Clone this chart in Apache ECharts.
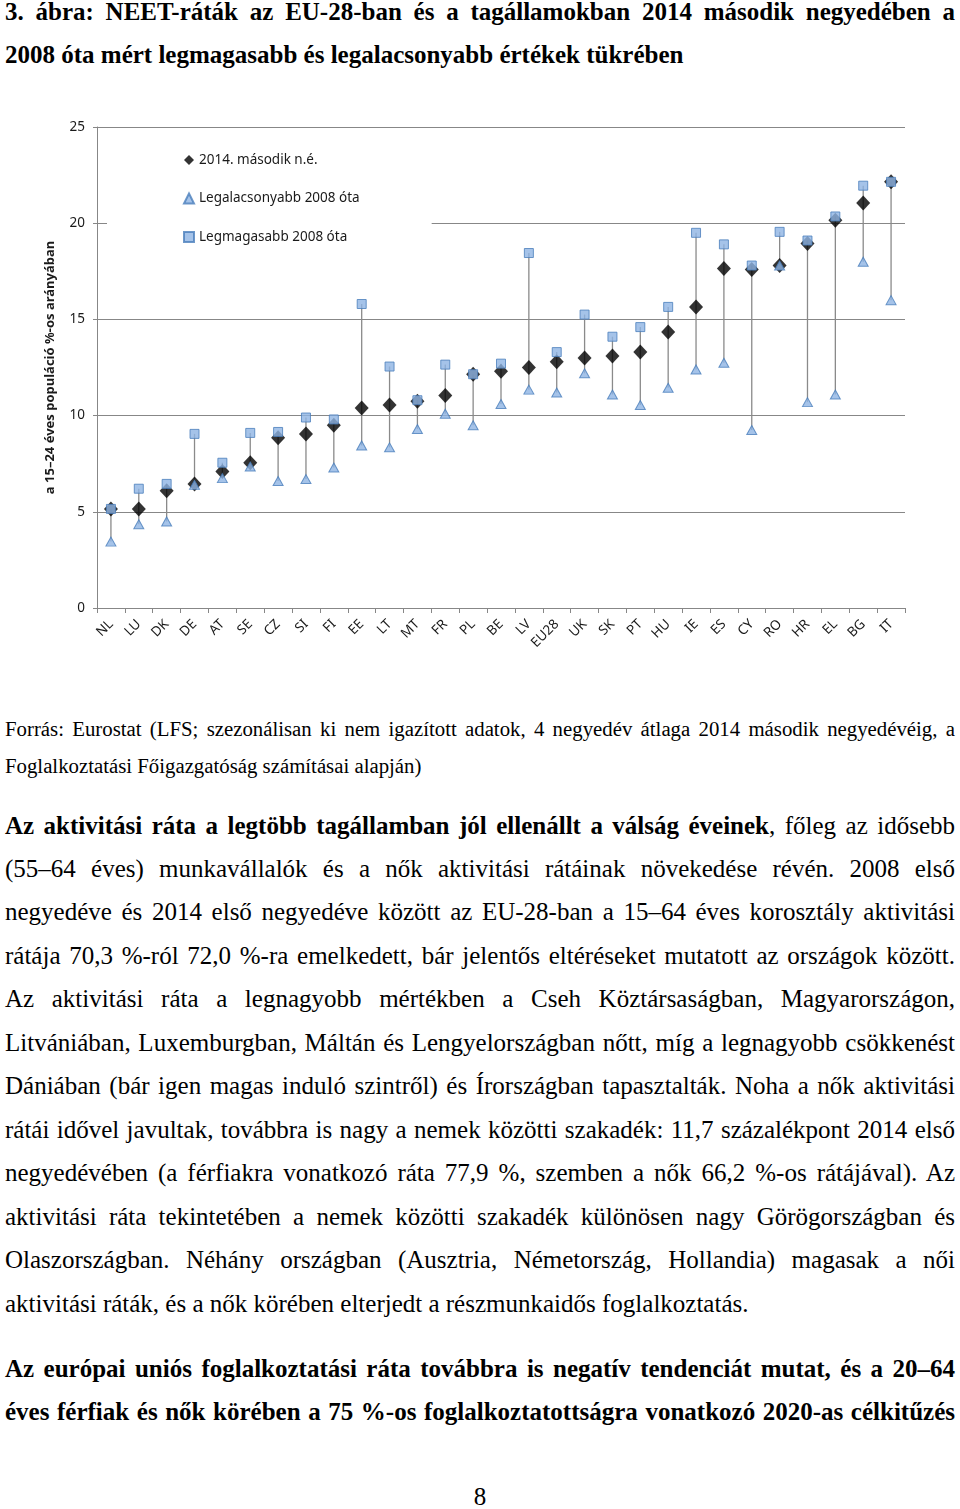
<!DOCTYPE html>
<html><head><meta charset="utf-8">
<script src="https://cdn.jsdelivr.net/npm/echarts@6/dist/echarts.min.js"></script>
<style>
html,body{margin:0;padding:0;background:#fff;width:960px;height:1509px;overflow:hidden;}
.ln{position:absolute;left:5px;width:950px;white-space:nowrap;font-family:"Liberation Serif","Times New Roman",serif;color:#000;text-align:justify;text-align-last:justify;height:30px;line-height:30px;}
.left{text-align:left;text-align-last:left;}
.t{font-weight:bold;font-size:25px;}
.s{font-size:20.8px;}
.b{font-size:25px;}
.bb{font-size:25px;font-weight:bold;}
#chart{position:absolute;left:0;top:90px;width:960px;height:590px;}
</style></head>
<body>
<div class="ln t" style="top:-3px">3. ábra: NEET-ráták az EU-28-ban és a tagállamokban 2014 második negyedében a</div>
<div class="ln t left" style="top:40px">2008 óta mért legmagasabb és legalacsonyabb értékek tükrében</div>
<div id="chart"></div>
<div class="ln s" style="top:714px">Forrás: Eurostat (LFS; szezonálisan ki nem igazított adatok, 4 negyedév átlaga 2014 második negyedévéig, a</div>
<div class="ln s left" style="top:751px">Foglalkoztatási Főigazgatóság számításai alapján)</div>
<div class="ln b" style="top:811px"><b>Az aktivitási ráta a legtöbb tagállamban jól ellenállt a válság éveinek</b>, főleg az idősebb</div>
<div class="ln b" style="top:854px">(55–64 éves) munkavállalók és a nők aktivitási rátáinak növekedése révén. 2008 első</div>
<div class="ln b" style="top:897px">negyedéve és 2014 első negyedéve között az EU-28-ban a 15–64 éves korosztály aktivitási</div>
<div class="ln b" style="top:941px">rátája 70,3 %-ról 72,0 %-ra emelkedett, bár jelentős eltéréseket mutatott az országok között.</div>
<div class="ln b" style="top:984px">Az aktivitási ráta a legnagyobb mértékben a Cseh Köztársaságban, Magyarországon,</div>
<div class="ln b" style="top:1028px">Litvániában, Luxemburgban, Máltán és Lengyelországban nőtt, míg a legnagyobb csökkenést</div>
<div class="ln b" style="top:1071px">Dániában (bár igen magas induló szintről) és Írországban tapasztalták. Noha a nők aktivitási</div>
<div class="ln b" style="top:1115px">rátái idővel javultak, továbbra is nagy a nemek közötti szakadék: 11,7 százalékpont 2014 első</div>
<div class="ln b" style="top:1158px">negyedévében (a férfiakra vonatkozó ráta 77,9 %, szemben a nők 66,2 %-os rátájával). Az</div>
<div class="ln b" style="top:1202px">aktivitási ráta tekintetében a nemek közötti szakadék különösen nagy Görögországban és</div>
<div class="ln b" style="top:1245px">Olaszországban. Néhány országban (Ausztria, Németország, Hollandia) magasak a női</div>
<div class="ln b left" style="top:1289px">aktivitási ráták, és a nők körében elterjedt a részmunkaidős foglalkoztatás.</div>
<div class="ln bb" style="top:1354px">Az európai uniós foglalkoztatási ráta továbbra is negatív tendenciát mutat, és a 20–64</div>
<div class="ln bb" style="top:1397px">éves férfiak és nők körében a 75 %-os foglalkoztatottságra vonatkozó 2020-as célkitűzés</div>
<div class="ln b" style="top:1482px;text-align:center;text-align-last:center">8</div>
<script>
// shrink any line whose natural width would overflow the text column
document.querySelectorAll('.ln').forEach(function(el){
  let fs = parseFloat(getComputedStyle(el).fontSize);
  let guard = 0;
  while (el.scrollWidth > 951 && guard < 40) { fs -= 0.1; el.style.fontSize = fs + 'px'; guard++; }
});

const categories = ['NL','LU','DK','DE','AT','SE','CZ','SI','FI','EE','LT','MT','FR','PL','BE','LV','EU28','UK','SK','PT','HU','IE','ES','CY','RO','HR','EL','BG','IT'];
const current2014 = [5.15,5.15,6.1,6.45,7.1,7.55,8.85,9.05,9.5,10.4,10.55,10.75,11.05,12.15,12.3,12.5,12.8,13.0,13.1,13.3,14.35,15.65,17.65,17.6,17.8,18.95,20.15,21.05,22.15];
const lowest = [3.45,4.35,4.5,6.4,6.75,7.35,6.6,6.7,7.3,8.45,8.35,9.3,10.1,9.5,10.6,11.35,11.2,12.2,11.1,10.55,11.45,12.4,12.75,9.25,17.8,10.7,11.1,18.0,16.0];
const highest = [5.15,6.2,6.45,9.05,7.55,9.1,9.15,9.9,9.8,15.8,12.55,10.8,12.65,12.15,12.7,18.45,13.3,15.25,14.1,14.6,15.65,19.5,18.9,17.8,19.55,19.1,20.35,21.95,22.15];

const chart = echarts.init(document.getElementById('chart'), null, {renderer:'canvas'});
const font = '"Noto Sans", "Open Sans", sans-serif';
const gridCol = '#878787';
const stemData = categories.map((c,i)=>[i, lowest[i], highest[i]]);
chart.setOption({
  animation:false,
  textStyle:{fontFamily:font},
  grid:{left:97,right:55,top:37,bottom:72},
  legend:{
    orient:'vertical', left:107, top:55,
    padding:[8,72,10,76], itemGap:24.5, itemWidth:10, itemHeight:10,
    backgroundColor:'#fff',
    textStyle:{fontFamily:font,fontSize:13.5,color:'#1a1a1a'},
    data:[{name:'2014. második n.é.'},{name:'Legalacsonyabb 2008 óta'},{name:'Legmagasabb 2008 óta'}]
  },
  xAxis:{
    type:'category', data:categories, boundaryGap:true,
    axisLine:{lineStyle:{color:gridCol,width:1}},
    axisTick:{show:true,length:5,lineStyle:{color:gridCol}},
    axisLabel:{rotate:45,fontSize:13.5,color:'#1a1a1a',margin:14,fontFamily:font,interval:0}
  },
  yAxis:{
    type:'value', min:0, max:25, interval:5,
    name:'a 15–24 éves populáció %-os arányában', nameLocation:'middle', nameRotate:90, nameGap:40,
    nameTextStyle:{fontFamily:font,fontSize:13,fontWeight:'bold',color:'#1a1a1a'},
    axisLine:{show:true,lineStyle:{color:gridCol}},
    axisTick:{show:true,length:4,lineStyle:{color:gridCol}},
    axisLabel:{fontSize:13.5,color:'#1a1a1a',margin:12,fontFamily:font},
    splitLine:{lineStyle:{color:gridCol,width:1}}
  },
  series:[
    {type:'custom', name:'stem', silent:true, z:1,
     renderItem:function(params,api){
       const p1=api.coord([api.value(0),api.value(1)]);
       const p2=api.coord([api.value(0),api.value(2)]);
       return {type:'line',shape:{x1:p1[0],y1:p1[1],x2:p2[0],y2:p2[1]},style:{stroke:'#8a8a8a',lineWidth:1.3}};
     },
     encode:{x:0,y:[1,2]}, data:stemData},
    {type:'scatter', name:'2014. második n.é.', data:current2014, symbol:'diamond', symbolSize:[14,15], z:3,
     itemStyle:{color:'#000',borderColor:'#000',borderWidth:0}},
    {type:'scatter', name:'Legalacsonyabb 2008 óta', data:lowest, symbol:'triangle', symbolSize:[10,9], z:4,
     itemStyle:{color:'#8eb4e3',borderColor:'#4a7ebb',borderWidth:1}},
    {type:'scatter', name:'Legmagasabb 2008 óta', data:highest, symbol:'rect', symbolSize:[9,9], z:5,
     itemStyle:{color:'#8eb4e3',borderColor:'#4a7ebb',borderWidth:1}}
  ]
});
</script>
</body></html>
